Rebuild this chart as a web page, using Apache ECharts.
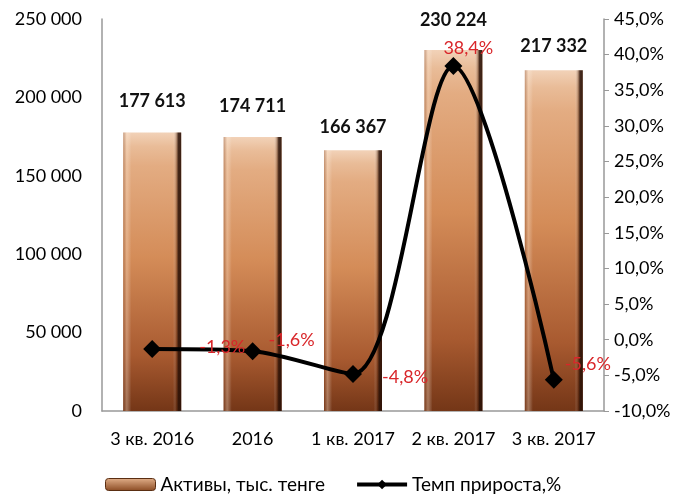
<!DOCTYPE html>
<html>
<head>
<meta charset="utf-8">
<script src="https://cdn.jsdelivr.net/npm/echarts@6/dist/echarts.min.js"></script>
<style>html,body{margin:0;padding:0;background:#fff}#c{width:686px;height:501px}</style>
</head>
<body>
<div id="c"></div>
<script>
const categories = ['3 кв. 2016', '2016', '1 кв. 2017', '2 кв. 2017', '3 кв. 2017'];
const assets = [177613, 174711, 166367, 230224, 217332];
const growth = [-1.3, -1.6, -4.8, 38.4, -5.6];
const leftTicks = { min: 0, max: 250000, interval: 50000 };
const rightTicks = { min: -10, max: 45, interval: 5 };

const FONT = 'Lato, "Open Sans", "Noto Sans", sans-serif';
const barLabelDist = [22, 22, 14, 21, 15];
const lineLabelOff = [[38, -2], [7, -11], [20, 3], [-19, -18], [2, -15]];

const barGrad = new echarts.graphic.LinearGradient(0, 0, 0, 1, [
  { offset: 0, color: '#f2d2b8' },
  { offset: 0.05, color: '#e9bc98' },
  { offset: 0.12, color: '#e3ac82' },
  { offset: 0.45, color: '#d48c58' },
  { offset: 0.8, color: '#a85a30' },
  { offset: 1, color: '#743617' }
]);
const edgeGrad = new echarts.graphic.LinearGradient(0, 0, 1, 0, [
  { offset: 0, color: 'rgba(120,60,30,0.35)' },
  { offset: 0.06, color: 'rgba(255,235,215,0.35)' },
  { offset: 0.14, color: 'rgba(255,255,255,0)' },
  { offset: 0.86, color: 'rgba(255,255,255,0)' },
  { offset: 0.92, color: 'rgba(60,25,8,0.35)' },
  { offset: 0.95, color: 'rgba(40,15,5,0.85)' },
  { offset: 1, color: 'rgba(40,15,5,0.9)' }
]);

const fmtNum = v => String(v).replace(/\B(?=(\d{3})+(?!\d))/g, ' ');
const fmtPct = v => v.toFixed(1).replace('.', ',') + '%';

const chart = echarts.init(document.getElementById('c'));
chart.setOption({
  animation: false,
  textStyle: { fontFamily: FONT },
  grid: { left: 102, right: 82, top: 19, bottom: 90 },
  legend: {
    bottom: 2,
    left: 100,
    itemWidth: 50,
    itemHeight: 12,
    itemGap: 30,
    textStyle: { fontSize: 19, color: '#000', fontFamily: FONT },
    data: [
      { name: 'Активы, тыс. тенге', itemStyle: { color: new echarts.graphic.LinearGradient(0, 0, 0, 1, [{offset:0,color:'#e2b08a'},{offset:1,color:'#8a4a22'}]), borderColor: '#5a2e12', borderWidth: 1 } },
      { name: 'Темп прироста,%', lineStyle: { width: 4, color: '#000' }, itemStyle: { color: '#000' } }
    ]
  },
  xAxis: {
    type: 'category',
    data: categories,
    axisLine: { lineStyle: { color: '#999', width: 1.5 } },
    axisTick: { show: false },
    axisLabel: { fontSize: 18, color: '#000', margin: 19, interval: 0 }
  },
  yAxis: [
    {
      type: 'value', ...leftTicks,
      splitLine: { show: false },
      axisLine: { show: true, lineStyle: { color: '#999', width: 1.5 } },
      axisTick: { show: false },
      axisLabel: { fontSize: 18, color: '#000', margin: 20, formatter: v => fmtNum(v) }
    },
    {
      type: 'value', ...rightTicks,
      position: 'right',
      splitLine: { show: false },
      axisLine: { show: true, lineStyle: { color: '#999', width: 1.5 } },
      axisTick: { show: true, length: 5, lineStyle: { color: '#999' } },
      axisLabel: { fontSize: 18, color: '#000', margin: 10, formatter: v => fmtPct(v) }
    }
  ],
  series: [
    {
      name: 'Активы, тыс. тенге',
      type: 'bar',
      barWidth: 58,
      yAxisIndex: 0,
      data: assets.map((v, i) => ({
        value: v,
        label: { distance: barLabelDist[i] }
      })),
      itemStyle: { color: barGrad },
      label: {
        show: true, position: 'top', fontSize: 18, fontWeight: 'bold', color: '#111',
        formatter: p => fmtNum(p.value)
      }
    },
    {
      name: 'edge',
      type: 'bar',
      barWidth: 58,
      barGap: '-100%',
      yAxisIndex: 0,
      silent: true,
      data: assets,
      itemStyle: { color: edgeGrad },
      label: { show: false }
    },
    {
      name: 'Темп прироста,%',
      type: 'line',
      yAxisIndex: 1,
      smooth: 0.3,
      symbol: 'diamond',
      symbolSize: 18,
      lineStyle: { color: '#000', width: 4 },
      itemStyle: { color: '#000' },
      data: growth.map((v, i) => ({
        value: v,
        label: { offset: lineLabelOff[i] }
      })),
      label: {
        show: true, position: 'right', distance: 0, fontSize: 18, color: '#d9262a',
        formatter: p => fmtPct(p.value)
      },
      z: 5
    }
  ]
});
</script>
</body>
</html>
